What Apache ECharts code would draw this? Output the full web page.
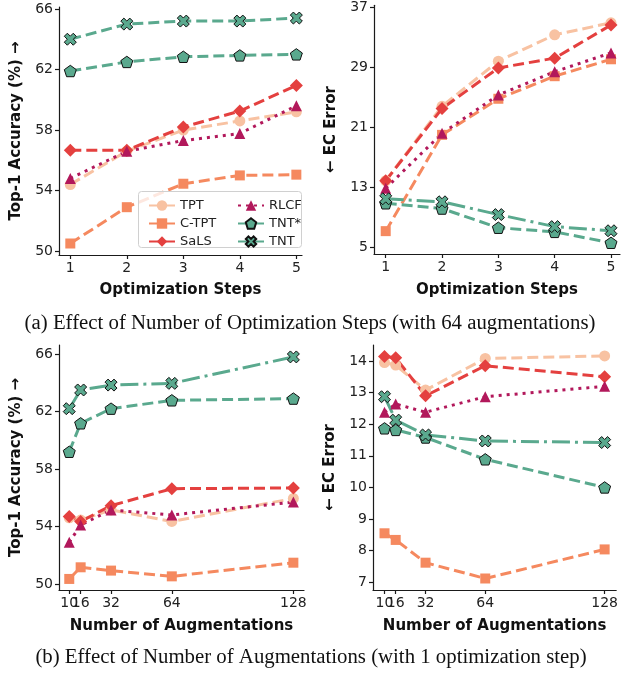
<!DOCTYPE html>
<html>
<head>
<meta charset="utf-8">
<script src="https://cdn.jsdelivr.net/npm/echarts@6/dist/echarts.min.js"></script>
<style>
  html, body { margin: 0; padding: 0; background: #fff; }
  #chart { width: 621px; height: 674px; }
</style>
</head>
<body>
<div id="chart"></div>
<script>
// ---- x positions ----
const stepsX = [1, 2, 3, 4, 5];
const augX = [10, 16, 32, 64, 128];

// ---- tick labels ----
const accTicks = [50, 54, 58, 62, 66];
const ecStepsTicks = [5, 13, 21, 29, 37];
const ecAugTicks = [7, 8, 9, 10, 11, 12, 13, 14];
// the 16 label sits on its own overlay axis so it is not dropped next to 10
const augTicksMain = [10, 32, 64, 128];
const augTicksOverlay = [16];

// ---- (a) accuracy vs optimization steps ----
const accStepsTPT = [54.4, 56.6, 58.0, 58.6, 59.2];
const accStepsCTPT = [50.5, 52.9, 54.45, 55.0, 55.05];
const accStepsSaLS = [56.66, 56.66, 58.2, 59.25, 60.95];
const accStepsRLCF = [54.8, 56.6, 57.3, 57.77, 59.6];
const accStepsTNTstar = [61.9, 62.5, 62.84, 62.93, 63.0];
const accStepsTNT = [64.0, 65.0, 65.2, 65.2, 65.4];

// ---- (a) EC error vs optimization steps ----
const ecStepsTPT = [13.9, 23.8, 29.8, 33.3, 34.9];
const ecStepsCTPT = [7.2, 20.0, 24.8, 27.8, 30.05];
const ecStepsSaLS = [13.9, 23.5, 28.9, 30.2, 34.6];
const ecStepsRLCF = [12.9, 20.2, 25.3, 28.4, 30.9];
const ecStepsTNTstar = [10.9, 10.2, 7.65, 7.1, 5.65];
const ecStepsTNT = [11.5, 11.1, 9.4, 7.8, 7.25];

// ---- (b) accuracy vs number of augmentations ----
const accAugTPT = [54.6, 54.45, 55.15, 54.35, 55.95];
const accAugCTPT = [50.35, 51.16, 50.93, 50.53, 51.48];
const accAugSaLS = [54.7, 54.35, 55.45, 56.63, 56.68];
const accAugRLCF = [52.9, 54.1, 55.15, 54.8, 55.7];
const accAugTNTstar = [59.2, 61.18, 62.2, 62.78, 62.9];
const accAugTNT = [62.2, 63.5, 63.84, 63.96, 65.8];

// ---- (b) EC error vs number of augmentations ----
const ecAugTPT = [13.95, 13.87, 13.08, 14.08, 14.16];
const ecAugCTPT = [8.55, 8.34, 7.62, 7.12, 8.04];
const ecAugSaLS = [14.14, 14.1, 12.9, 13.85, 13.5];
const ecAugRLCF = [12.38, 12.64, 12.38, 12.87, 13.2];
const ecAugTNTstar = [11.87, 11.82, 11.58, 10.89, 10.0];
const ecAugTNT = [12.87, 12.13, 11.66, 11.47, 11.42];

// ---- marker shapes ----
const pentagonPath = 'path://M50,2 L97.6,36.6 L79.4,92.5 L20.6,92.5 L2.4,36.6 Z';
function crossPath(w) {
  const L = 1;
  const pts = [[w,w],[w,L],[-w,L],[-w,w],[-L,w],[-L,-w],[-w,-w],[-w,-L],[w,-L],[w,-w],[L,-w],[L,w]];
  const E = (L + w) / Math.SQRT2;
  const s = pts.map(([x, y]) => {
    const rx = (x - y) / Math.SQRT2, ry = (x + y) / Math.SQRT2;
    return (50 + 50 * rx / E).toFixed(2) + ',' + (50 + 50 * ry / E).toFixed(2);
  });
  return 'path://M' + s.join(' L') + ' Z';
}
const xPath = crossPath(0.34);

// ---- styles per method ----
const DASH = [11, 5];
const DOT = [3, 5];
const DASHDOT = [18, 5, 3, 5];
const styles = {
  'TPT':  { color: '#f8c2a2', symbol: 'circle', size: 11, dash: DASH },
  'C-TPT': { color: '#f5895f', symbol: 'rect', size: 10, dash: DASH },
  'SaLS': { color: '#e4403f', symbol: 'diamond', size: 13, dash: DASH },
  'RLCF': { color: '#b2185b', symbol: 'triangle', size: 11, dash: DOT },
  'TNT*': { color: '#5aa98e', symbol: pentagonPath, size: 12, dash: DASH, edge: true },
  'TNT':  { color: '#5aa98e', symbol: xPath, size: 12, dash: DASHDOT, edge: true }
};

function makeSeries(name, xs, ys, gridIdx, dashOverride) {
  const st = styles[name];
  return {
    type: 'line',
    name: name,
    xAxisIndex: gridIdx,
    yAxisIndex: gridIdx,
    data: xs.map((x, i) => [x, ys[i]]),
    symbol: st.symbol,
    symbolSize: st.size,
    symbolKeepAspect: true,
    showAllSymbol: true,
    lineStyle: { color: st.color, width: 3, type: dashOverride || st.dash, cap: 'butt' },
    itemStyle: {
      color: st.color,
      borderColor: st.edge ? '#111' : st.color,
      borderWidth: st.edge ? 1 : 0
    },
    emphasis: { disabled: true },
    z: 2
  };
}

const FONT = 'DejaVu Sans';
const AXIS_COLOR = '#1a1a1a';
const tickLabel = {
  fontFamily: FONT, fontSize: 14, color: '#222', margin: 6,
  hideOverlap: false, showMinLabel: true, showMaxLabel: true
};
const axisNameStyle = { fontFamily: FONT, fontWeight: 'bold', fontSize: 15, color: '#111' };

function makeXAxis(gridIdx, min, max, ticks, labels, name, nameGap) {
  return {
    type: 'value', gridIndex: gridIdx, min: min, max: max,
    name: name, nameLocation: 'middle', nameGap: nameGap,
    nameTextStyle: axisNameStyle,
    axisLine: { show: true, onZero: false, lineStyle: { color: AXIS_COLOR, width: 1.2 } },
    axisTick: { show: true, length: 4, lineStyle: { color: AXIS_COLOR, width: 1.2 }, customValues: ticks },
    axisLabel: Object.assign({ customValues: labels }, tickLabel),
    splitLine: { show: false }
  };
}
// label-only axis laid over a bottom x axis
function makeOverlayXAxis(gridIdx, min, max, labels) {
  return {
    type: 'value', gridIndex: gridIdx, min: min, max: max, position: 'bottom',
    axisLine: { show: false, onZero: false },
    axisTick: { show: false },
    axisLabel: Object.assign({ customValues: labels }, tickLabel),
    splitLine: { show: false }
  };
}
function makeYAxis(gridIdx, min, max, ticks, name, nameGap) {
  return {
    type: 'value', gridIndex: gridIdx, min: min, max: max,
    name: name, nameLocation: 'middle', nameGap: nameGap, nameRotate: 90,
    nameTextStyle: axisNameStyle,
    axisLine: { show: true, onZero: false, lineStyle: { color: AXIS_COLOR, width: 1.2 } },
    axisTick: { show: true, length: 4, lineStyle: { color: AXIS_COLOR, width: 1.2 }, customValues: ticks },
    axisLabel: Object.assign({ customValues: ticks }, tickLabel),
    splitLine: { show: false }
  };
}

const series = [
  makeSeries('TPT', stepsX, accStepsTPT, 0),
  makeSeries('C-TPT', stepsX, accStepsCTPT, 0),
  makeSeries('SaLS', stepsX, accStepsSaLS, 0),
  makeSeries('RLCF', stepsX, accStepsRLCF, 0),
  makeSeries('TNT*', stepsX, accStepsTNTstar, 0),
  makeSeries('TNT', stepsX, accStepsTNT, 0, DASH),

  makeSeries('TPT', stepsX, ecStepsTPT, 1),
  makeSeries('C-TPT', stepsX, ecStepsCTPT, 1),
  makeSeries('SaLS', stepsX, ecStepsSaLS, 1),
  makeSeries('RLCF', stepsX, ecStepsRLCF, 1),
  makeSeries('TNT*', stepsX, ecStepsTNTstar, 1),
  makeSeries('TNT', stepsX, ecStepsTNT, 1),

  makeSeries('TPT', augX, accAugTPT, 2),
  makeSeries('C-TPT', augX, accAugCTPT, 2),
  makeSeries('SaLS', augX, accAugSaLS, 2),
  makeSeries('RLCF', augX, accAugRLCF, 2),
  makeSeries('TNT*', augX, accAugTNTstar, 2),
  makeSeries('TNT', augX, accAugTNT, 2),

  makeSeries('TPT', augX, ecAugTPT, 3),
  makeSeries('C-TPT', augX, ecAugCTPT, 3),
  makeSeries('SaLS', augX, ecAugSaLS, 3),
  makeSeries('RLCF', augX, ecAugRLCF, 3),
  makeSeries('TNT*', augX, ecAugTNTstar, 3),
  makeSeries('TNT', augX, ecAugTNT, 3)
];

const legendBase = {
  orient: 'vertical', itemWidth: 26, itemHeight: 13, itemGap: 5,
  textStyle: { fontFamily: FONT, fontSize: 13, color: '#222' },
  selectedMode: false, z: 5
};

const option = {
  animation: false,
  backgroundColor: '#ffffff',
  grid: [
    { left: 59, top: 7, width: 243, height: 248 },
    { left: 374, top: 5, width: 246, height: 249 },
    { left: 59, top: 345, width: 245, height: 245 },
    { left: 373, top: 345, width: 247, height: 245 }
  ],
  xAxis: [
    makeXAxis(0, 0.8, 5.1, stepsX, stepsX, 'Optimization Steps', 28),
    makeXAxis(1, 0.792, 5.16, stepsX, stepsX, 'Optimization Steps', 29),
    makeXAxis(2, 4.6, 133.6, augX, augTicksMain, 'Number of Augmentations', 29),
    makeXAxis(3, 3.83, 134.2, augX, augTicksMain, 'Number of Augmentations', 29),
    makeOverlayXAxis(2, 4.6, 133.6, augTicksOverlay),
    makeOverlayXAxis(3, 3.83, 134.2, augTicksOverlay)
  ],
  yAxis: [
    makeYAxis(0, 49.74, 66.13, accTicks, 'Top-1 Accuracy (%) →', 35),
    makeYAxis(1, 4.16, 37.23, ecStepsTicks, '← EC Error', 35),
    makeYAxis(2, 49.58, 66.63, accTicks, 'Top-1 Accuracy (%) →', 35),
    makeYAxis(3, 6.756, 14.506, ecAugTicks, '← EC Error', 35)
  ],
  legend: [
    Object.assign({ left: 143, top: 194, data: ['TPT', 'C-TPT', 'SaLS'] }, legendBase),
    Object.assign({ left: 232, top: 194, data: ['RLCF', 'TNT*', 'TNT'] }, legendBase)
  ],
  graphic: [
    {
      type: 'rect', z: 3,
      shape: { x: 138.5, y: 191.5, width: 163, height: 56, r: 3 },
      style: { fill: 'rgba(255,255,255,0.8)', stroke: '#d0d0d0', lineWidth: 1 }
    },
    {
      type: 'text', z: 5, x: 310, y: 324,
      style: {
        text: '(a) Effect of Number of Optimization Steps (with 64 augmentations)',
        fontFamily: 'Liberation Serif', fontSize: 20.8, fill: '#111',
        textAlign: 'center', textVerticalAlign: 'middle'
      }
    },
    {
      type: 'text', z: 5, x: 311, y: 658,
      style: {
        text: '(b) Effect of Number of Augmentations (with 1 optimization step)',
        fontFamily: 'Liberation Serif', fontSize: 20.8, fill: '#111',
        textAlign: 'center', textVerticalAlign: 'middle'
      }
    }
  ],
  series: series
};

const chart = echarts.init(document.getElementById('chart'), null, { renderer: 'canvas' });
chart.setOption(option);
</script>
</body>
</html>
